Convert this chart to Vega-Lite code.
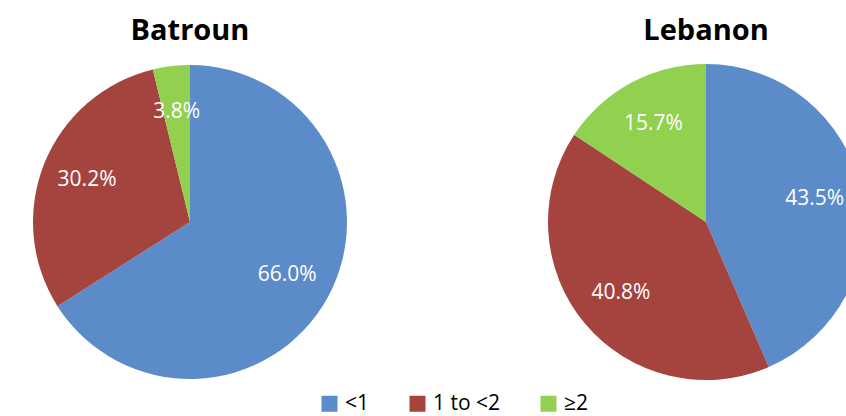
{
  "$schema": "https://vega.github.io/schema/vega-lite/v6.json",
  "padding": {"top": 17, "left": 0, "right": 0, "bottom": 20},
  "background": "white",
  "datasets": {
    "pies": [
      {"region": "Batroun", "group": "<1", "k": 1, "pct": 66.0, "label": "66.0%"},
      {"region": "Batroun", "group": "1 to <2", "k": 2, "pct": 30.2, "label": "30.2%"},
      {"region": "Batroun", "group": "≥2", "k": 3, "pct": 3.8, "label": "3.8%"},
      {"region": "Lebanon", "group": "<1", "k": 1, "pct": 43.5, "label": "43.5%"},
      {"region": "Lebanon", "group": "1 to <2", "k": 2, "pct": 40.8, "label": "40.8%"},
      {"region": "Lebanon", "group": "≥2", "k": 3, "pct": 15.7, "label": "15.7%"}
    ]
  },
  "config": {
    "view": {"stroke": null},
    "font": "Open Sans",
    "title": {"font": "Open Sans", "fontSize": 29, "fontWeight": "bold", "color": "#000000", "anchor": "middle", "offset": 16},
    "concat": {"spacing": 136}
  },
  "hconcat": [
    {
      "title": "Batroun",
      "width": 380,
      "height": 320,
      "data": {"name": "pies"},
      "transform": [{"filter": "datum.region === 'Batroun'"}],
      "encoding": {
        "theta": {"field": "pct", "type": "quantitative", "stack": true},
        "order": {"field": "k", "type": "ordinal"},
        "color": {
          "field": "group", "type": "nominal",
          "scale": {"domain": ["<1", "1 to <2", "≥2"], "range": ["#5B8BC9", "#A5433F", "#92D050"]},
          "legend": {"orient": "none", "legendX": 319, "legendY": 331, "direction": "horizontal", "title": null,
            "symbolType": "square", "symbolSize": 256, "symbolStrokeWidth": 0, "labelFontSize": 21, "labelFont": "Open Sans", "labelColor": "#000000", "columnPadding": 37, "labelOffset": 5, "labelLimit": 300}
        }
      },
      "layer": [
        {"mark": {"type": "arc", "outerRadius": 157, "strokeWidth": 0}},
        {"mark": {"type": "text", "radius": 111, "fontSize": 21, "font": "Open Sans"}, "encoding": {"text": {"field": "label"}, "color": {"value": "white"}}}
      ]
    },
    {
      "title": "Lebanon",
      "width": 380,
      "height": 320,
      "data": {"name": "pies"},
      "transform": [{"filter": "datum.region === 'Lebanon'"}],
      "encoding": {
        "theta": {"field": "pct", "type": "quantitative", "stack": true},
        "order": {"field": "k", "type": "ordinal"},
        "color": {
          "field": "group", "type": "nominal",
          "scale": {"domain": ["<1", "1 to <2", "≥2"], "range": ["#5B8BC9", "#A5433F", "#92D050"]},
          "legend": null
        }
      },
      "layer": [
        {"mark": {"type": "arc", "outerRadius": 158, "strokeWidth": 0}},
        {"mark": {"type": "text", "radius": 111, "fontSize": 21, "font": "Open Sans"}, "encoding": {"text": {"field": "label"}, "color": {"value": "white"}}}
      ]
    }
  ]
}
